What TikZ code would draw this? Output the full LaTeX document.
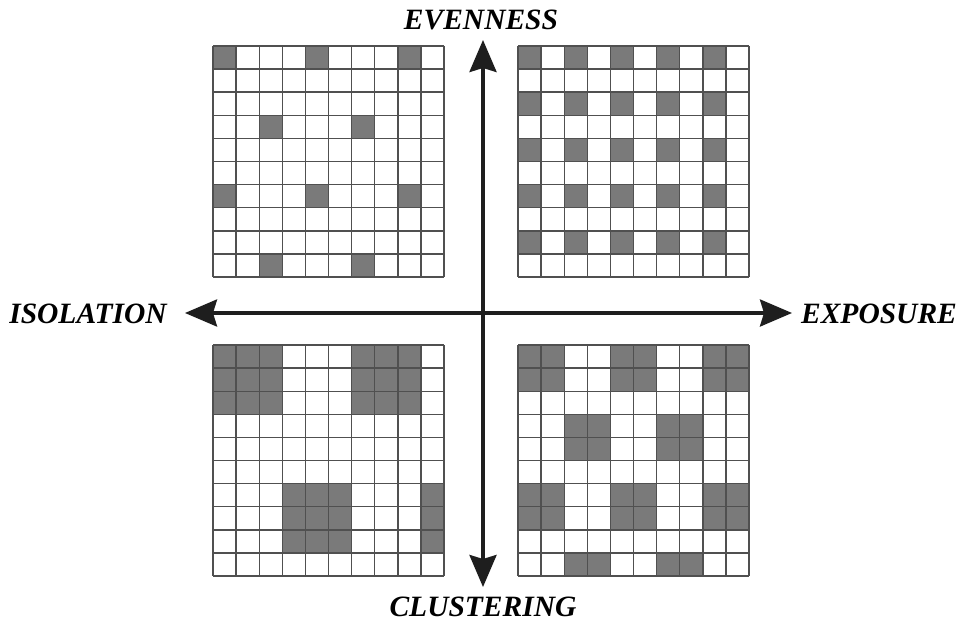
\documentclass[tikz,border=0pt]{standalone}
\usepackage{fontspec}
\setmainfont{Liberation Serif}
\usepackage{tikz}
\usetikzlibrary{arrows.meta}
\definecolor{cellgray}{HTML}{7A7A7A}
\definecolor{gridgray}{HTML}{505050}
\definecolor{axisblack}{HTML}{1E1E1E}
\tikzstyle{axislabel} = [font=\fontsize{29.5}{32}\selectfont\bfseries\itshape, text=black, inner sep=0pt]
\tikzstyle{axis} = [line width=3.6pt, draw=axisblack, {Stealth[length=32pt,width=27pt,inset=4pt]}-{Stealth[length=32pt,width=27pt,inset=4pt]}]
\tikzstyle{cellfill} = [fill=cellgray]
\tikzstyle{gridline} = [draw=gridgray, line width=1.4pt]
% one 10x10 grid: #1,#2 top left corner, #3 shaded cells as col/row
\newcommand{\patterngrid}[3]{%
  \foreach \c/\r in {#3} \fill[cellfill] (#1+\c*23.1, #2+\r*23.1) rectangle ++(23.1,23.1);
  \foreach \i in {0,...,10} {
    \draw[gridline] (#1+\i*23.1, #2) -- ++(0,231);
    \draw[gridline] (#1, #2+\i*23.1) -- ++(231,0);
  }
}
\begin{document}
\begin{tikzpicture}[x=1pt, y=-1pt]

    \useasboundingbox[fill=white] (0,0) rectangle (959,626);

    % evenness (top left)
    \patterngrid{213}{46}{0/0,4/0,8/0,2/3,6/3,0/6,4/6,8/6,2/9,6/9}

    % exposure (top right)
    \patterngrid{518}{46}{0/0,2/0,4/0,6/0,8/0,0/2,2/2,4/2,6/2,8/2,0/4,2/4,4/4,6/4,8/4,0/6,2/6,4/6,6/6,8/6,0/8,2/8,4/8,6/8,8/8}

    % clustering (bottom left)
    \patterngrid{213}{345}{0/0,1/0,2/0,6/0,7/0,8/0,0/1,1/1,2/1,6/1,7/1,8/1,0/2,1/2,2/2,6/2,7/2,8/2,3/6,4/6,5/6,9/6,3/7,4/7,5/7,9/7,3/8,4/8,5/8,9/8}

    % bottom right
    \patterngrid{518}{345}{0/0,1/0,4/0,5/0,8/0,9/0,0/1,1/1,4/1,5/1,8/1,9/1,2/3,3/3,6/3,7/3,2/4,3/4,6/4,7/4,0/6,1/6,4/6,5/6,8/6,9/6,0/7,1/7,4/7,5/7,8/7,9/7,2/9,3/9,6/9,7/9}

    \node (evenness) [axislabel] at (481,20) {EVENNESS};

    \node (clustering) [axislabel] at (483,607) {CLUSTERING};

    \node (isolation) [axislabel] at (88,314) {ISOLATION};

    \node (exposure) [axislabel] at (879,314) {EXPOSURE};

    \coordinate (top_tip) at (483,40);
    \coordinate (bottom_tip) at (483,587);
    \coordinate (left_tip) at (185,313);
    \coordinate (right_tip) at (792,313);

    \draw [axis] (top_tip) -- (bottom_tip);

    \draw [axis] (left_tip) -- (right_tip);

\end{tikzpicture}
\end{document}
